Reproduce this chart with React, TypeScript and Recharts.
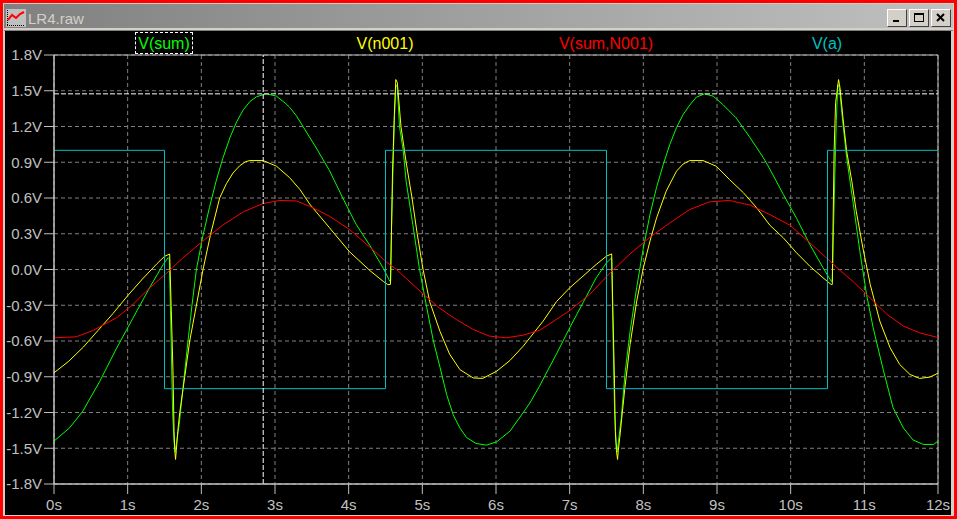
import { LineChart, Line, XAxis, YAxis, CartesianGrid, ReferenceLine, ReferenceArea } from 'recharts';

// time (s) / voltage (V) pairs
const sumTime = [0, 0.21, 0.39, 0.62, 0.85, 1.07, 1.3, 1.48, 1.55, 1.565, 1.59, 1.61, 1.63, 1.645, 1.7, 1.767, 1.819, 1.873, 1.933, 2.02, 2.11, 2.2, 2.29, 2.39, 2.48, 2.57, 2.66, 2.75, 2.88, 3.02, 3.15, 3.2, 3.29, 3.38, 3.56, 3.74, 3.92, 4.1, 4.29, 4.47, 4.56, 4.57, 4.58, 4.6, 4.62, 4.64, 4.66, 4.69, 4.74, 4.78, 4.87, 4.96, 5.06, 5.15, 5.24, 5.33, 5.42, 5.51, 5.6, 5.73, 5.87, 6.01, 6.19, 6.37, 6.46, 6.59, 6.64, 6.82, 7.0, 7.18, 7.36, 7.5, 7.57, 7.59, 7.61, 7.63, 7.645, 7.7, 7.75, 7.82, 7.91, 8.0, 8.09, 8.18, 8.27, 8.36, 8.45, 8.54, 8.63, 8.72, 8.83, 8.95, 9.08, 9.26, 9.45, 9.63, 9.72, 9.9, 10.08, 10.26, 10.44, 10.55, 10.565, 10.58, 10.6, 10.62, 10.64, 10.66, 10.71, 10.76, 10.85, 10.94, 11.03, 11.12, 11.26, 11.39, 11.53, 11.66, 11.8, 11.94, 12];
const sumVolts = [-1.44, -1.33, -1.19, -0.94, -0.66, -0.41, -0.15, 0.04, 0.1, 0.09, -0.6, -1.2, -1.45, -1.53, -1.3, -0.9, -0.6, -0.3, 0, 0.28, 0.52, 0.74, 0.93, 1.11, 1.24, 1.34, 1.41, 1.45, 1.474, 1.455, 1.39, 1.36, 1.29, 1.2, 1.02, 0.83, 0.6, 0.38, 0.2, 0.01, -0.1, -0.1, 0.3, 0.8, 1.25, 1.55, 1.53, 1.2, 1.0, 0.74, 0.38, 0.01, -0.32, -0.6, -0.82, -1.05, -1.22, -1.33, -1.41, -1.46, -1.474, -1.446, -1.356, -1.2, -1.12, -0.98, -0.92, -0.71, -0.49, -0.28, -0.07, 0.056, 0.098, -0.6, -1.2, -1.45, -1.53, -1.25, -0.88, -0.52, -0.15, 0.18, 0.46, 0.69, 0.88, 1.05, 1.19, 1.3, 1.38, 1.446, 1.474, 1.454, 1.384, 1.272, 1.105, 0.937, 0.84, 0.63, 0.43, 0.21, 0.014, -0.098, -0.1, 0.3, 0.8, 1.25, 1.55, 1.53, 1.22, 0.94, 0.55, 0.15, -0.21, -0.49, -0.85, -1.16, -1.33, -1.43, -1.468, -1.468, -1.44];

const n001Time = [0, 0.2, 0.4, 0.6, 0.8, 1.0, 1.2, 1.4, 1.5, 1.57, 1.59, 1.615, 1.63, 1.64, 1.65, 1.66, 1.68, 1.707, 1.775, 1.842, 1.933, 2.023, 2.127, 2.249, 2.34, 2.43, 2.52, 2.6, 2.66, 2.84, 3.02, 3.2, 3.34, 3.47, 3.74, 4.01, 4.29, 4.47, 4.53, 4.567, 4.58, 4.595, 4.62, 4.64, 4.66, 4.71, 4.78, 4.86, 4.93, 5.01, 5.1, 5.24, 5.37, 5.51, 5.69, 5.82, 6.01, 6.19, 6.37, 6.46, 6.64, 6.82, 7.0, 7.18, 7.36, 7.5, 7.57, 7.585, 7.605, 7.62, 7.635, 7.65, 7.66, 7.68, 7.75, 7.82, 7.91, 8.0, 8.09, 8.18, 8.31, 8.45, 8.54, 8.63, 8.81, 8.99, 9.17, 9.36, 9.54, 9.72, 9.9, 10.08, 10.26, 10.44, 10.55, 10.565, 10.575, 10.59, 10.61, 10.65, 10.67, 10.71, 10.76, 10.83, 10.89, 10.98, 11.08, 11.21, 11.35, 11.48, 11.62, 11.75, 11.89, 12];
const n001Volts = [-0.867, -0.77, -0.65, -0.51, -0.37, -0.22, -0.08, 0.05, 0.11, 0.13, -0.3, -0.85, -1.36, -1.52, -1.594, -1.52, -1.36, -1.2, -0.9, -0.6, -0.3, 0, 0.3, 0.6, 0.72, 0.81, 0.87, 0.905, 0.914, 0.914, 0.867, 0.77, 0.67, 0.55, 0.35, 0.15, -0.01, -0.1, -0.126, -0.126, 0.29, 0.81, 1.3, 1.594, 1.57, 1.2, 0.9, 0.6, 0.3, 0, -0.27, -0.52, -0.71, -0.84, -0.91, -0.914, -0.853, -0.763, -0.643, -0.573, -0.433, -0.27, -0.154, -0.056, 0.042, 0.112, 0.131, -0.3, -0.85, -1.36, -1.52, -1.594, -1.52, -1.41, -0.99, -0.63, -0.266, 0.014, 0.238, 0.433, 0.657, 0.825, 0.885, 0.914, 0.914, 0.867, 0.755, 0.643, 0.517, 0.37, 0.266, 0.14, 0.028, -0.07, -0.126, -0.126, 0.35, 1.0, 1.4, 1.594, 1.524, 1.272, 0.993, 0.741, 0.489, 0.182, -0.126, -0.433, -0.657, -0.797, -0.881, -0.914, -0.903, -0.87];

const diffTime = [0, 0.3, 0.53, 0.85, 1.07, 1.3, 1.57, 1.75, 2.02, 2.29, 2.57, 2.84, 3.06, 3.29, 3.47, 3.74, 4.01, 4.29, 4.51, 4.65, 4.78, 5.01, 5.24, 5.46, 5.69, 5.91, 6.14, 6.37, 6.59, 6.73, 7.0, 7.27, 7.55, 7.82, 8.09, 8.36, 8.63, 8.9, 9.17, 9.45, 9.72, 9.99, 10.26, 10.51, 10.62, 10.85, 11.08, 11.3, 11.53, 11.75, 11.98, 12];
const diffVolts = [-0.573, -0.565, -0.512, -0.405, -0.294, -0.154, -0.008, 0.098, 0.238, 0.372, 0.484, 0.554, 0.579, 0.575, 0.531, 0.447, 0.336, 0.187, 0.064, 0, -0.075, -0.204, -0.327, -0.419, -0.503, -0.559, -0.573, -0.551, -0.51, -0.456, -0.344, -0.21, -0.028, 0.131, 0.271, 0.391, 0.503, 0.568, 0.579, 0.54, 0.46, 0.372, 0.224, 0.084, 0.02, -0.103, -0.238, -0.372, -0.475, -0.531, -0.568, -0.57];

const aTime = [0, 1.5, 1.5, 4.5, 4.5, 7.5, 7.5, 10.5, 10.5, 12];
const aVolts = [1, 1, -1, -1, 1, 1, -1, -1, 1, 1];

const xTicks = [0, 1, 2, 3, 4, 5, 6, 7, 8, 9, 10, 11, 12];
const yTicks = [1.8, 1.5, 1.2, 0.9, 0.6, 0.3, 0, -0.3, -0.6, -0.9, -1.2, -1.5, -1.8];

const cursorTime = 2.84;
const cursorVolts = 1.474;

const toPoints = (t: number[], v: number[]) => t.map((x, i) => ({ t: x, v: v[i] }));

const traces = [
  { name: 'V(sum)', color: '#00ff00', points: toPoints(sumTime, sumVolts), labelX: 164 },
  { name: 'V(n001)', color: '#ffff00', points: toPoints(n001Time, n001Volts), labelX: 385 },
  { name: 'V(sum,N001)', color: '#ff0000', points: toPoints(diffTime, diffVolts), labelX: 606 },
  { name: 'V(a)', color: '#00c0c0', points: toPoints(aTime, aVolts), labelX: 827 },
];

const FONT = '"Liberation Sans", Arial, sans-serif';
const tickStyle = { fill: '#c0c0c0', fontSize: 15, fontFamily: FONT };

function TitleButton({ left, kind }: { left: number; kind: 'min' | 'max' | 'close' }) {
  return (
    <div
      style={{
        position: 'absolute',
        left,
        top: 9,
        width: 20,
        height: 18,
        boxSizing: 'border-box',
        background: '#d4d0c8',
        borderTop: '1px solid #ffffff',
        borderLeft: '1px solid #ffffff',
        borderRight: '1px solid #404040',
        borderBottom: '1px solid #404040',
      }}
    >
      <svg width={18} height={16} style={{ position: 'absolute', left: 0, top: 0 }}>
        {kind === 'min' && <rect x={5} y={10} width={6} height={2} fill="#000" />}
        {kind === 'max' && (
          <rect x={4.5} y={3.5} width={9} height={8} fill="none" stroke="#000" strokeWidth={1} />
        )}
        {kind === 'max' && <rect x={4} y={3} width={10} height={2} fill="#000" />}
        {kind === 'close' && (
          <path d="M5 4 L12 11 M12 4 L5 11" stroke="#000" strokeWidth={2} />
        )}
      </svg>
    </div>
  );
}

export default function App() {
  return (
    <div style={{ position: 'absolute', left: 0, top: 0, width: 957, height: 519, background: '#ff0000', overflow: 'hidden' }}>
      {/* window frame */}
      <div style={{ position: 'absolute', left: 3, top: 3, width: 951, height: 513, background: '#d4d0c8' }} />
      <div
        style={{
          position: 'absolute',
          left: 4,
          top: 4,
          width: 949,
          height: 24,
          background: 'linear-gradient(to right, #808080, #c0c0c0)',
        }}
      />
      <svg width={20} height={18} style={{ position: 'absolute', left: 6, top: 9 }}>
        <rect x={0} y={0} width={20} height={18} fill="#c0c0c0" />
        <polyline points="2,11 6,6 10,9 14,5 18,3" fill="none" stroke="#ff0000" strokeWidth={2} />
        <line x1={1.5} y1={1} x2={1.5} y2={17} stroke="#000" strokeDasharray="1 1" />
        <line x1={1} y1={16.5} x2={19} y2={16.5} stroke="#000" strokeDasharray="1 1" />
      </svg>
      <div
        style={{
          position: 'absolute',
          left: 28,
          top: 10,
          fontFamily: FONT,
          fontSize: 15,
          lineHeight: '17px',
          color: '#d4d0c8',
        }}
      >
        LR4.raw
      </div>
      <TitleButton left={887} kind="min" />
      <TitleButton left={909} kind="max" />
      <TitleButton left={931} kind="close" />
      <div style={{ position: 'absolute', left: 4, top: 30, width: 949, height: 1, background: '#808080' }} />
      <div style={{ position: 'absolute', left: 5, top: 31, width: 946, height: 484, background: '#000000' }} />

      <LineChart
        width={957}
        height={519}
        margin={{ top: 55, right: 19, bottom: 0, left: 0 }}
        style={{ position: 'absolute', left: 0, top: 0 }}
      >
        <CartesianGrid stroke="#808080" strokeDasharray="4 3" />
        <XAxis
          dataKey="t"
          type="number"
          domain={[0, 12]}
          ticks={xTicks}
          tickFormatter={(v: number) => `${v}s`}
          height={35}
          tickSize={10}
          tickMargin={5}
          tick={tickStyle}
          tickLine={{ stroke: '#c0c0c0' }}
          axisLine={{ stroke: '#c0c0c0' }}
          allowDuplicatedCategory={false}
        />
        <YAxis
          type="number"
          domain={[-1.8, 1.8]}
          ticks={yTicks}
          tickFormatter={(v: number) => `${v.toFixed(1)}V`}
          width={54}
          tickSize={10}
          tickMargin={2}
          tick={tickStyle}
          tickLine={{ stroke: '#c0c0c0' }}
          axisLine={{ stroke: '#c0c0c0' }}
          interval={0}
        />
        <ReferenceArea x1={0} x2={12} y1={-1.8} y2={1.8} fill="none" stroke="#c0c0c0" strokeOpacity={1} fillOpacity={0} />
        {traces.map((tr) => (
          <Line
            key={tr.name}
            data={tr.points}
            dataKey="v"
            name={tr.name}
            type="linear"
            stroke={tr.color}
            strokeWidth={1}
            dot={false}
            activeDot={false}
            isAnimationActive={false}
          />
        ))}
        <ReferenceLine x={cursorTime} stroke="#ffffff" strokeDasharray="5 2" />
        <ReferenceLine y={cursorVolts} stroke="#ffffff" strokeDasharray="5 2" />
      </LineChart>

      {/* trace labels along the top, LTspice style */}
      {traces.map((tr, i) => (
        <div
          key={tr.name}
          style={{
            position: 'absolute',
            left: tr.labelX - 60,
            width: 120,
            top: 35,
            textAlign: 'center',
            fontFamily: FONT,
            fontSize: 16,
            lineHeight: '18px',
            color: tr.color,
          }}
        >
          <span
            style={
              i === 0
                ? { border: '1px dashed #ffffff', padding: '2px 2px 1px 2px' }
                : undefined
            }
          >
            {tr.name}
          </span>
        </div>
      ))}
    </div>
  );
}
